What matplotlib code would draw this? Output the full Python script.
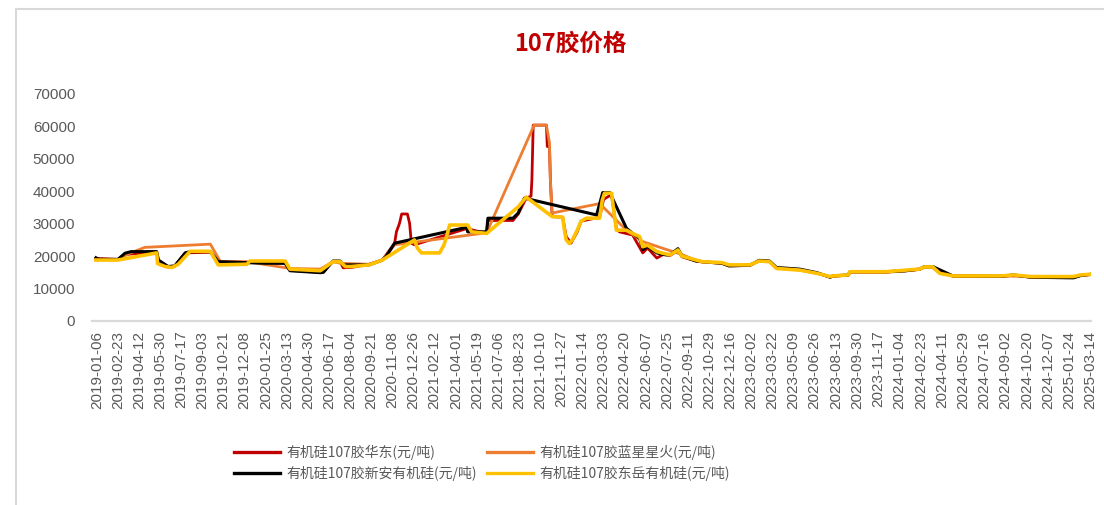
import matplotlib
matplotlib.use('Agg')
import matplotlib.pyplot as plt
import pandas as pd
from matplotlib.lines import Line2D

plt.rcParams['font.family'] = ['Liberation Sans', 'Noto Sans CJK SC', 'DejaVu Sans']

# x轴刻度标签
tick_labels = ['2019-01-06', '2019-02-23', '2019-04-12', '2019-05-30', '2019-07-17', '2019-09-03',
               '2019-10-21', '2019-12-08', '2020-01-25', '2020-03-13', '2020-04-30', '2020-06-17',
               '2020-08-04', '2020-09-21', '2020-11-08', '2020-12-26', '2021-02-12', '2021-04-01',
               '2021-05-19', '2021-07-06', '2021-08-23', '2021-10-10', '2021-11-27', '2022-01-14',
               '2022-03-03', '2022-04-20', '2022-06-07', '2022-07-25', '2022-09-11', '2022-10-29',
               '2022-12-16', '2023-02-02', '2023-03-22', '2023-05-09', '2023-06-26', '2023-08-13',
               '2023-09-30', '2023-11-17', '2024-01-04', '2024-02-23', '2024-04-11', '2024-05-29',
               '2024-07-16', '2024-09-02', '2024-10-20', '2024-12-07', '2025-01-24', '2025-03-14']

# 有机硅107胶华东
huadong_dates = ['2019-01-04', '2019-02-23', '2019-03-11', '2019-05-22', '2019-05-26', '2019-06-17',
                 '2019-07-02', '2019-07-26', '2019-09-21', '2019-10-01', '2019-10-09', '2020-03-09',
                 '2020-03-20', '2020-05-28', '2020-06-26', '2020-07-12', '2020-07-19', '2020-08-06',
                 '2020-09-16', '2020-10-16', '2020-11-13', '2020-11-17', '2020-11-24', '2020-11-29',
                 '2020-12-12', '2020-12-17', '2020-12-21', '2020-12-28', '2021-04-26', '2021-06-10',
                 '2021-06-13', '2021-08-09', '2021-08-21', '2021-09-08', '2021-09-19', '2021-09-21',
                 '2021-09-24', '2021-10-24', '2021-10-26', '2021-10-31', '2021-11-02', '2021-11-06',
                 '2021-11-30', '2021-12-08', '2021-12-19', '2022-01-02', '2022-01-11', '2022-02-22',
                 '2022-03-03', '2022-03-21', '2022-04-01', '2022-04-08', '2022-05-08', '2022-05-31',
                 '2022-06-11', '2022-07-02', '2022-07-16', '2022-08-01', '2022-08-19', '2022-08-28',
                 '2022-09-29', '2022-10-13', '2022-11-27', '2022-12-13', '2023-01-29', '2023-02-20',
                 '2023-03-15', '2023-03-31', '2023-05-23', '2023-07-01', '2023-07-31', '2023-08-06',
                 '2023-09-10', '2023-09-14', '2023-12-05', '2024-01-20', '2024-02-19', '2024-03-02',
                 '2024-03-20', '2024-05-05', '2024-08-22', '2024-09-20', '2024-10-29', '2025-02-03',
                 '2025-02-19', '2025-03-14']
huadong = [19300, 19000, 20500, 21300, 18500, 16600,
           16900, 21000, 21200, 19500, 18300, 17800,
           15600, 15000, 18300, 18300, 16400, 16500,
           17500, 18800, 24000, 27500, 30100, 33000,
           33000, 30100, 24000, 23500, 28500, 27000,
           31000, 31000, 33000, 37900, 38500, 43500,
           60400, 60400, 53800, 53800, 43500, 32200,
           32000, 26000, 24000, 27500, 30800, 32000,
           37500, 39000, 28500, 27500, 26500, 21000,
           22500, 19400, 20500, 20200, 21800, 19800,
           18500, 18200, 17800, 17000, 17100, 18600,
           18400, 16300, 15800, 14800, 13500, 13800,
           14100, 15100, 15100, 15500, 15900, 16700,
           16700, 13800, 13700, 14100, 13500, 13400,
           14000, 14300]

# 有机硅107胶蓝星星火
lanxing_dates = ['2019-01-04', '2019-02-23', '2019-03-22', '2019-04-25', '2019-09-21', '2019-10-14',
                 '2019-12-13', '2020-03-20', '2020-05-28', '2020-06-26', '2020-07-12', '2020-09-16',
                 '2020-10-16', '2020-11-13', '2021-06-10', '2021-09-26', '2021-10-24', '2021-10-31',
                 '2021-11-02', '2021-11-06', '2022-02-22', '2022-04-24', '2022-05-31', '2022-07-16',
                 '2022-08-28', '2022-09-29', '2022-10-13', '2022-11-27', '2022-12-13', '2023-01-29',
                 '2023-02-20', '2023-03-15', '2023-03-31', '2023-05-23', '2023-07-01', '2023-07-31',
                 '2023-09-10', '2023-09-14', '2023-12-05', '2024-01-20', '2024-02-19', '2024-03-02',
                 '2024-03-20', '2024-04-05', '2024-05-05', '2024-08-22', '2024-10-29', '2025-02-03',
                 '2025-03-14']
lanxing = [19000, 19000, 20900, 22700, 23700, 18300,
           18300, 16200, 16000, 18300, 17800, 17500,
           18800, 23500, 27200, 60400, 60400, 54900,
           43500, 33300, 36200, 28000, 24500, 22400,
           20500, 18700, 18300, 17800, 17200, 17300,
           18500, 18300, 16300, 15700, 14700, 13700,
           14200, 15000, 15000, 15500, 16000, 16500,
           16500, 14800, 13900, 13900, 13700, 13700,
           14400]

# 有机硅107胶新安有机硅
xinan_dates = ['2019-01-04', '2019-01-10', '2019-02-23', '2019-03-11', '2019-03-25', '2019-05-22',
               '2019-05-26', '2019-06-17', '2019-07-02', '2019-07-26', '2019-08-06', '2019-09-21',
               '2019-10-09', '2020-01-23', '2020-03-09', '2020-03-20', '2020-05-28', '2020-06-04',
               '2020-06-26', '2020-07-12', '2020-07-19', '2020-09-16', '2020-10-16', '2020-10-25',
               '2020-11-13', '2021-04-26', '2021-04-28', '2021-06-10', '2021-06-13', '2021-08-09',
               '2021-08-21', '2021-08-28', '2021-09-04', '2022-02-15', '2022-03-01', '2022-03-17',
               '2022-04-24', '2022-05-08', '2022-05-24', '2022-05-31', '2022-06-11', '2022-07-02',
               '2022-07-16', '2022-08-01', '2022-08-19', '2022-08-28', '2022-09-29', '2022-10-13',
               '2022-11-27', '2022-12-13', '2023-01-29', '2023-02-20', '2023-03-15', '2023-03-31',
               '2023-05-23', '2023-07-01', '2023-07-31', '2023-08-06', '2023-09-10', '2023-09-14',
               '2023-12-05', '2024-01-20', '2024-02-19', '2024-03-02', '2024-03-20', '2024-05-05',
               '2024-08-22', '2024-09-20', '2024-10-29', '2025-02-03', '2025-02-19', '2025-03-14']
xinan = [19500, 19000, 19000, 20900, 21400, 21400,
         18800, 16800, 17000, 21000, 21400, 21400,
         18300, 17800, 17800, 15500, 14900, 15000,
         18500, 18500, 17300, 17300, 18800, 20000,
         24000, 28900, 27500, 27500, 31700, 31700,
         33300, 35800, 37900, 32700, 39600, 39600,
         28600, 27000, 25500, 22000, 23000, 21000,
         20500, 20400, 22300, 20000, 18500, 18300,
         17800, 17000, 17200, 18700, 18500, 16500,
         16000, 14900, 13500, 13900, 14200, 15200,
         15200, 15500, 16000, 16800, 16800, 13900,
         13800, 14200, 13500, 13300, 14000, 14400]

# 有机硅107胶东岳有机硅
dongyue_dates = ['2019-01-04', '2019-02-23', '2019-05-22', '2019-05-24', '2019-06-10', '2019-06-26',
                 '2019-07-10', '2019-08-06', '2019-09-21', '2019-10-09', '2019-12-13', '2019-12-20',
                 '2020-03-09', '2020-03-20', '2020-05-28', '2020-06-26', '2020-07-12', '2020-07-24',
                 '2020-08-06', '2020-09-16', '2020-10-16', '2020-12-28', '2021-01-04', '2021-01-13',
                 '2021-02-23', '2021-03-05', '2021-03-11', '2021-03-18', '2021-04-28', '2021-05-07',
                 '2021-06-10', '2021-08-21', '2021-09-08', '2021-11-06', '2021-11-30', '2021-12-04',
                 '2021-12-08', '2021-12-15', '2021-12-22', '2022-01-02', '2022-01-11', '2022-01-23',
                 '2022-02-22', '2022-02-28', '2022-03-05', '2022-03-21', '2022-04-01', '2022-04-24',
                 '2022-05-08', '2022-05-24', '2022-05-31', '2022-06-11', '2022-07-02', '2022-07-16',
                 '2022-08-01', '2022-08-19', '2022-08-28', '2022-09-29', '2022-10-13', '2022-11-27',
                 '2022-12-13', '2023-01-29', '2023-02-20', '2023-03-15', '2023-03-31', '2023-05-23',
                 '2023-07-01', '2023-07-31', '2023-08-06', '2023-09-10', '2023-09-14', '2023-12-05',
                 '2024-01-20', '2024-02-19', '2024-03-02', '2024-03-20', '2024-04-05', '2024-05-05',
                 '2024-08-22', '2024-09-20', '2024-10-29', '2025-02-03', '2025-02-19', '2025-03-14']
dongyue = [18800, 18800, 21000, 17700, 16800, 16500,
           17500, 21500, 21500, 17300, 17500, 18500,
           18500, 16000, 15500, 18300, 18300, 16800,
           16800, 17300, 18800, 25000, 22400, 21000,
           21000, 23400, 26000, 29600, 29600, 27500,
           27000, 35200, 38200, 32200, 32000, 28000,
           25000, 23900, 25000, 28000, 30800, 31700,
           31700, 37300, 39400, 39400, 28000, 28000,
           27000, 26000, 22900, 23400, 21400, 20900,
           20400, 21900, 20000, 18800, 18300, 18000,
           17300, 17300, 18500, 18300, 16200, 15700,
           14700, 13700, 13900, 14200, 15200, 15200,
           15700, 16000, 16700, 16700, 14700, 13900,
           13900, 14200, 13700, 13700, 14200, 14400]

fig = plt.figure(figsize=(11.04, 5.05), dpi=100)
ax = fig.add_axes([92 / 1104, 1 - 321 / 505, 999 / 1104, 227 / 505])

l1, = ax.plot(pd.to_datetime(huadong_dates), huadong, color='#C00000', lw=2.0, label='有机硅107胶华东(元/吨)')
l2, = ax.plot(pd.to_datetime(lanxing_dates), lanxing, color='#ED7D31', lw=2.0, label='有机硅107胶蓝星星火(元/吨)')
l3, = ax.plot(pd.to_datetime(xinan_dates), xinan, color='black', lw=2.2, label='有机硅107胶新安有机硅(元/吨)')
l4, = ax.plot(pd.to_datetime(dongyue_dates), dongyue, color='#FFC000', lw=2.6, label='有机硅107胶东岳有机硅(元/吨)')

ax.set_ylim(0, 70000)
ax.set_yticks(range(0, 70001, 10000))
ax.set_xlim(pd.Timestamp('2018-12-26'), pd.Timestamp('2025-03-15'))
ax.set_xticks(pd.to_datetime(tick_labels))
ax.set_xticklabels(tick_labels, rotation=90)
ax.tick_params(axis='both', length=0, labelcolor='#595959', labelsize=11)
ax.tick_params(axis='x', pad=7)
ax.tick_params(axis='y', pad=12)
for s in ['top', 'right', 'left']:
    ax.spines[s].set_visible(False)
ax.spines['bottom'].set_color('#D9D9D9')
ax.spines['bottom'].set_linewidth(1.6)

fig.text(570 / 1104, 1 - 44 / 505, '107胶价格', color='#C00000', fontsize=17, fontweight='bold',
         ha='center', va='center', family=['Noto Sans CJK SC'])

# 图例按行排列：华东、蓝星 / 新安、东岳
leg = fig.legend([l1, l3, l2, l4], [l1.get_label(), l3.get_label(), l2.get_label(), l4.get_label()],
                 loc='center', bbox_to_anchor=(482 / 1104, 1 - 463 / 505), ncol=2, frameon=False,
                 prop={'family': ['Noto Sans CJK SC'], 'size': 10}, handlelength=3.3,
                 handletextpad=0.5, columnspacing=0.7, labelspacing=0.45)
for t in leg.get_texts():
    t.set_color('#595959')
for h in leg.get_lines():
    h.set_linewidth(2.4)

# 外框
fig.add_artist(Line2D([16 / 1104, 16 / 1104], [0, 1 - 9 / 505], color='#D9D9D9', lw=1.5))
fig.add_artist(Line2D([16 / 1104, 1], [1 - 9 / 505, 1 - 9 / 505], color='#D9D9D9', lw=1.5))

fig.savefig('out.png', dpi=100)
